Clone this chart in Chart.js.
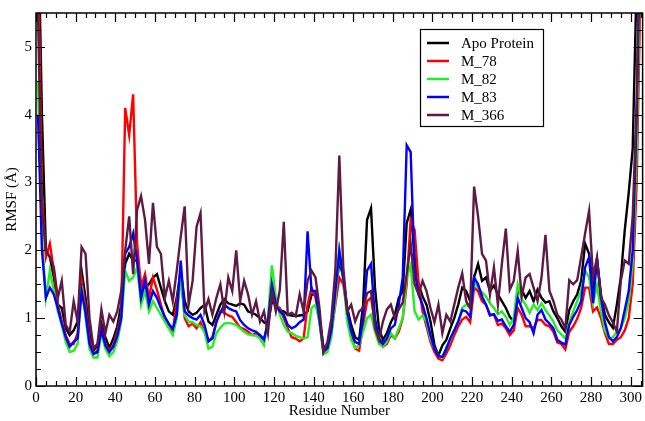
<!DOCTYPE html>
<html>
<head>
<meta charset="utf-8">
<script src="https://cdn.jsdelivr.net/npm/chart.js@4.4.1/dist/chart.umd.min.js"></script>
<style>
  body { margin: 0; background: #fff; }
</style>
</head>
<body>
<canvas id="rmsfChart" width="645" height="421"></canvas>
<script>
// residue numbers (every second residue)
const residues = [
  1, 3, 5, 7, 9, 11, 13, 15, 17, 19, 21, 23, 25, 27, 29, 31, 33, 35, 37, 39, 41, 43, 45, 47, 49,
  51, 53, 55, 57, 59, 61, 63, 65, 67, 69, 71, 73, 75, 77, 79, 81, 83, 85, 87, 89, 91, 93, 95, 97, 99,
  101, 103, 105, 107, 109, 111, 113, 115, 117, 119, 121, 123, 125, 127, 129, 131, 133, 135, 137, 139, 141, 143, 145, 147, 149,
  151, 153, 155, 157, 159, 161, 163, 165, 167, 169, 171, 173, 175, 177, 179, 181, 183, 185, 187, 189, 191, 193, 195, 197, 199,
  201, 203, 205, 207, 209, 211, 213, 215, 217, 219, 221, 223, 225, 227, 229, 231, 233, 235, 237, 239, 241, 243, 245, 247, 249,
  251, 253, 255, 257, 259, 261, 263, 265, 267, 269, 271, 273, 275, 277, 279, 281, 283, 285, 287, 289, 291, 293, 295, 297, 299,
  301, 303, 305
];

const apoProtein = [
  7.0, 4.0, 2.0, 1.9, 1.6, 1.2, 1.15, 0.85, 0.75, 0.82, 0.95, 1.7, 1.3, 0.78, 0.52, 0.6, 0.92, 0.72, 0.56, 0.7, 0.88, 1.2, 1.8, 1.95, 1.85,
  1.85, 1.5, 1.45, 1.5, 1.6, 1.65, 1.45, 1.25, 1.1, 1.05, 1.3, 1.7, 1.25, 1.1, 1.05, 1.08, 1.15, 1.2, 0.95, 0.9, 1.05, 1.2, 1.28, 1.22, 1.2,
  1.18, 1.22, 1.2, 1.1, 1.08, 1.05, 1.0, 0.94, 0.9, 1.25, 1.2, 1.12, 1.1, 1.05, 1.04, 1.03, 1.04, 1.05, 1.1, 1.35, 1.35, 1.0, 0.58, 0.58, 0.8,
  1.3, 1.85, 1.6, 1.15, 0.9, 0.72, 0.68, 1.2, 2.45, 2.62, 1.45, 0.85, 0.68, 0.78, 0.94, 1.05, 1.3, 1.4, 2.4, 2.6, 1.9, 1.5, 1.32, 1.2, 0.95,
  0.6, 0.45, 0.6, 0.68, 0.85, 1.0, 1.2, 1.45, 1.4, 1.25, 1.6, 1.8, 1.55, 1.6, 1.4, 1.48, 1.35, 1.25, 1.15, 1.02, 0.95, 1.4, 1.42, 1.3, 1.4,
  1.25, 1.42, 1.3, 1.23, 1.25, 1.1, 1.0, 0.88, 0.8, 1.12, 1.25, 1.35, 1.55, 2.1, 1.95, 1.45, 1.85, 1.35, 1.05, 0.94, 0.86, 1.2, 1.6, 2.3, 2.85,
  3.5, 6.0, 8.0
];

const m78 = [
  6.5, 2.8, 1.9, 2.1, 1.7, 1.2, 0.95, 0.75, 0.62, 0.62, 0.78, 1.55, 1.15, 0.68, 0.48, 0.52, 0.85, 0.62, 0.52, 0.6, 0.8, 1.05, 4.1, 3.7, 4.3,
  2.1, 1.45, 1.65, 1.3, 1.6, 1.42, 1.2, 1.0, 0.9, 0.8, 1.25, 1.65, 1.0, 0.88, 0.92, 0.85, 0.94, 0.8, 0.66, 0.72, 0.94, 1.1, 1.08, 1.04, 1.02,
  0.94, 0.86, 0.84, 0.8, 0.75, 0.78, 0.74, 0.7, 0.9, 1.32, 1.2, 1.15, 1.0, 0.85, 0.72, 0.7, 0.66, 0.7, 1.2, 1.45, 1.3, 0.95, 0.5, 0.55, 0.8,
  1.2, 1.6, 1.5, 1.1, 0.75, 0.55, 0.52, 0.9, 1.25, 1.3, 0.95, 0.68, 0.58, 0.62, 0.75, 0.7, 0.8, 1.0, 1.5, 2.45, 2.3, 1.5, 1.1, 0.88, 0.65,
  0.5, 0.4, 0.38, 0.48, 0.6, 0.75, 0.88, 0.98, 1.02, 0.94, 1.45, 1.4, 1.25, 1.2, 1.05, 1.05, 0.9, 0.92, 0.85, 0.75, 0.82, 1.15, 1.05, 0.88, 0.88,
  0.85, 0.98, 0.97, 0.9, 0.88, 0.8, 0.64, 0.62, 0.54, 0.8, 0.88, 0.99, 1.15, 1.45, 1.45, 1.1, 1.16, 1.0, 0.78, 0.62, 0.62, 0.68, 0.72, 0.82, 1.0,
  1.5, 3.0, 6.0
];

const m82 = [
  4.5, 2.2, 1.3, 1.7, 1.4, 1.1, 0.9, 0.65, 0.5, 0.52, 0.62, 1.48, 1.0, 0.55, 0.42, 0.42, 0.78, 0.55, 0.44, 0.5, 0.66, 0.95, 1.7, 1.55, 1.6,
  1.75, 1.2, 1.4, 1.1, 1.25, 1.15, 1.05, 0.95, 0.85, 0.75, 1.0, 1.6, 1.05, 0.95, 0.94, 0.9, 0.88, 0.8, 0.55, 0.58, 0.78, 0.86, 0.92, 0.93, 0.92,
  0.9, 0.85, 0.8, 0.76, 0.75, 0.74, 0.7, 0.6, 1.0, 1.78, 1.3, 1.05, 0.9, 0.8, 0.78, 0.74, 0.72, 0.7, 0.72, 1.15, 1.2, 0.95, 0.47, 0.5, 0.72,
  1.25, 2.0, 1.6, 0.95, 0.68, 0.56, 0.6, 0.8, 1.0, 1.05, 0.8, 0.62, 0.58, 0.65, 0.78, 0.7, 0.85, 1.0, 1.6, 1.78, 1.1, 0.98, 1.04, 0.95, 0.7,
  0.55, 0.45, 0.42, 0.58, 0.68, 0.82, 0.95, 1.15, 1.2, 1.15, 1.52, 1.45, 1.38, 1.32, 1.22, 1.15, 1.06, 1.1, 1.02, 0.9, 1.0, 1.5, 1.28, 1.2, 1.08,
  1.2, 1.12, 1.22, 1.12, 1.04, 0.95, 0.82, 0.76, 0.7, 0.94, 1.1, 1.25, 1.4, 1.7, 1.6, 1.22, 1.48, 1.1, 0.82, 0.7, 0.72, 0.8, 0.85, 1.0, 1.25,
  1.8, 3.5, 6.5
];

const m83 = [
  4.0, 2.0, 1.3, 1.45, 1.35, 1.15, 0.92, 0.72, 0.58, 0.65, 0.7, 1.4, 1.08, 0.62, 0.47, 0.5, 0.82, 0.6, 0.5, 0.58, 0.74, 1.0, 1.95, 2.05, 2.25,
  1.85, 1.3, 1.55, 1.2, 1.4, 1.3, 1.15, 1.02, 0.92, 0.84, 1.05, 1.85, 1.1, 1.04, 1.0, 0.98, 1.05, 0.9, 0.66, 0.7, 0.95, 1.08, 1.2, 1.15, 1.12,
  1.1, 0.97, 0.9, 0.85, 0.82, 0.8, 0.75, 0.68, 0.95, 1.5, 1.2, 1.1, 1.05, 0.9, 0.85, 0.88, 0.94, 0.98, 2.28, 1.4, 1.4, 0.98, 0.51, 0.56, 0.82,
  1.4, 2.0, 1.6, 1.1, 0.8, 0.65, 0.62, 1.0, 1.7, 1.8, 1.0, 0.7, 0.62, 0.7, 0.85, 0.9, 1.2, 1.6, 3.55, 3.45, 1.7, 1.35, 1.2, 1.0, 0.75,
  0.55, 0.44, 0.43, 0.55, 0.7, 0.82, 0.95, 1.12, 1.1, 1.02, 1.6, 1.5, 1.32, 1.2, 1.04, 1.06, 0.96, 0.98, 0.88, 0.8, 0.9, 1.3, 1.15, 1.0, 0.94,
  0.78, 1.05, 1.12, 0.98, 0.92, 0.85, 0.68, 0.64, 0.61, 0.9, 1.02, 1.12, 1.25, 1.75, 1.9, 1.22, 1.88, 1.3, 0.94, 0.72, 0.66, 0.72, 0.85, 1.12, 1.4,
  2.0, 4.0, 7.0
];

const m366 = [
  5.5, 2.6, 2.0, 1.9, 1.75, 1.3, 1.55, 0.9, 0.8, 1.25, 0.95, 2.05, 1.95, 1.0, 0.56, 0.62, 1.13, 0.78, 1.05, 0.95, 1.1, 1.4, 2.0, 2.5, 1.65,
  2.6, 2.8, 2.45, 1.8, 2.7, 2.05, 1.95, 1.3, 1.55, 1.25, 1.7, 2.2, 2.65, 1.2, 1.55, 2.35, 2.55, 1.1, 1.28, 1.05, 1.3, 1.5, 1.1, 1.6, 1.4,
  2.0, 1.25, 1.55, 1.35, 1.05, 1.25, 0.95, 1.1, 0.78, 1.4, 1.1, 1.42, 2.42, 1.05, 1.08, 1.03, 1.35, 1.1, 1.55, 1.7, 1.6, 1.15, 0.5, 0.65, 1.0,
  1.7, 3.4, 1.75, 1.1, 1.2, 0.95, 1.1, 1.15, 1.37, 1.4, 0.85, 0.68, 0.95, 1.13, 1.2, 1.0, 1.13, 1.23, 1.65, 2.1, 1.5, 1.35, 1.55, 1.4, 1.15,
  0.94, 1.2, 0.78, 1.05, 0.95, 1.2, 1.45, 1.66, 1.25, 1.15, 2.94, 2.5, 1.95, 1.85, 1.35, 1.75, 1.2, 1.8, 2.32, 1.42, 1.55, 1.99, 1.32, 1.6, 1.65,
  1.45, 1.25, 1.6, 2.23, 1.4, 1.25, 1.05, 0.98, 0.85, 1.56, 1.5, 1.56, 1.9, 2.25, 2.58, 1.6, 1.9, 1.3, 1.2, 1.04, 0.94, 0.8, 1.55, 1.85, 1.8,
  2.5, 4.2, 7.5
];

const seriesNames = ['Apo Protein', 'M_78', 'M_82', 'M_83', 'M_366'];
const seriesColors = ['#000000', '#ff0000', '#22ee22', '#0000ff', '#5e1a45'];
const seriesData = [apoProtein, m78, m82, m83, m366];

const serif = 'Liberation Serif, Times New Roman, serif';

// ticks pointing inward on all four sides, frame, and boxed legend
const frameAndLegend = {
  id: 'frameAndLegend',
  afterDatasetsDraw(chart) {
    const { ctx, chartArea: a, scales: { x, y } } = chart;
    ctx.save();
    ctx.strokeStyle = '#000';
    ctx.lineWidth = 1.5;
    ctx.strokeRect(a.left, a.top, a.right - a.left, a.bottom - a.top);

    ctx.lineWidth = 1.2;
    ctx.beginPath();
    for (let v = 0; v <= 305; v += 5) {
      const px = Math.round(x.getPixelForValue(v)) + 0.5;
      const len = v % 20 === 0 ? 9 : 5;
      ctx.moveTo(px, a.bottom); ctx.lineTo(px, a.bottom - len);
      ctx.moveTo(px, a.top); ctx.lineTo(px, a.top + len);
    }
    for (let v = 0; v <= 5.5; v += 0.25) {
      const py = Math.round(y.getPixelForValue(v)) + 0.5;
      const len = v % 1 === 0 ? 9 : 5;
      ctx.moveTo(a.left, py); ctx.lineTo(a.left + len, py);
      ctx.moveTo(a.right, py); ctx.lineTo(a.right - len, py);
    }
    ctx.stroke();

    // legend box
    const bx = 420, by = 29, bw = 123, bh = 97;
    ctx.fillStyle = '#fff';
    ctx.fillRect(bx, by, bw, bh);
    ctx.lineWidth = 1.2;
    ctx.strokeRect(bx + 0.5, by + 0.5, bw, bh);
    ctx.font = '15px ' + serif;
    ctx.textBaseline = 'middle';
    seriesNames.forEach((name, i) => {
      const ry = by + 14 + i * 18;
      ctx.strokeStyle = seriesColors[i];
      ctx.lineWidth = 2.5;
      ctx.beginPath();
      ctx.moveTo(bx + 7, ry);
      ctx.lineTo(bx + 29, ry);
      ctx.stroke();
      ctx.fillStyle = '#000';
      ctx.fillText(name, bx + 41, ry + 1);
    });
    ctx.restore();
  }
};

const ctx = document.getElementById('rmsfChart');

new Chart(ctx, {
  type: 'line',
  data: {
    labels: residues,
    datasets: seriesNames.map((name, i) => ({
      label: name,
      data: seriesData[i],
      borderColor: seriesColors[i],
      backgroundColor: seriesColors[i],
      borderWidth: 2.4,
      pointRadius: 0,
      tension: 0,
      fill: false,
      order: seriesNames.length - i
    }))
  },
  options: {
    responsive: false,
    animation: false,
    devicePixelRatio: 1,
    layout: { padding: { top: 2, right: 2, left: 0, bottom: 0 } },
    plugins: {
      legend: { display: false },
      tooltip: { enabled: false }
    },
    scales: {
      x: {
        type: 'linear',
        min: 0,
        max: 306,
        grid: { display: false, drawTicks: false },
        border: { display: false },
        ticks: {
          stepSize: 20,
          includeBounds: false,
          autoSkip: false,
          maxRotation: 0,
          padding: 3,
          color: '#000',
          font: { family: serif, size: 15 }
        },
        title: {
          display: true,
          text: 'Residue Number',
          color: '#000',
          padding: { top: 0, bottom: 1 },
          font: { family: serif, size: 15 }
        },
        afterFit(scale) { scale.height = 35; }
      },
      y: {
        min: 0,
        max: 5.5,
        grid: { display: false, drawTicks: false },
        border: { display: false },
        ticks: {
          stepSize: 1,
          includeBounds: false,
          padding: 4,
          color: '#000',
          font: { family: serif, size: 15 }
        },
        title: {
          display: true,
          text: 'RMSF (Å)',
          color: '#000',
          padding: { top: 3, bottom: 0 },
          font: { family: serif, size: 15 }
        },
        afterFit(scale) { scale.width = 36; }
      }
    }
  },
  plugins: [frameAndLegend]
});
</script>
</body>
</html>
